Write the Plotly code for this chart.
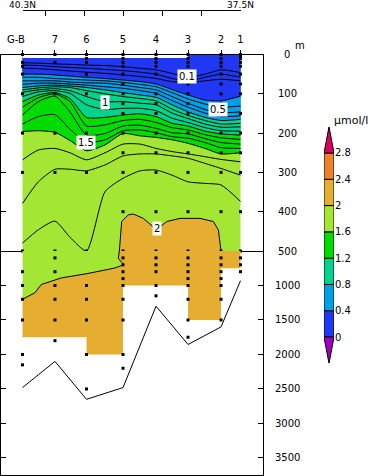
import plotly.graph_objects as go

W, H = 390, 476

# ---------- data ----------
station_names = ["", "7", "6", "5", "4", "3", "2", "1"]
first_station = "G-B"
station_lat = [40.3, 39.883, 39.478, 39.009, 38.585, 38.174, 37.75, 37.5]
col_lat = [40.3, 40.097, 39.883, 39.69, 39.478, 39.24, 39.009, 38.79, 38.585, 38.38, 38.174, 37.956, 37.75, 37.5]

iso_01 = [21, 22, 24, 25, 27, 28, 31, 35, 39, 48, 58, 50, 39, 46]
iso_02 = [27, 28, 31, 33, 35, 38, 41, 45, 50, 61, 67, 58, 50, 58]
iso_03 = [35, 36, 39, 42, 45, 48, 52, 56, 61, 69, 72, 67, 63, 67]
iso_04 = [50, 50, 52, 55, 58, 61, 65, 69, 75, 89, 103, 116, 118, 106]
iso_05 = [58, 58, 61, 63, 65, 67, 71, 76, 82, 97, 113, 126, 134, 131]
iso_06 = [67, 67, 67, 70, 72, 73, 78, 84, 90, 107, 124, 140, 148, 146]
iso_07 = [76, 73, 73, 75, 78, 82, 86, 92, 99, 117, 134, 149, 158, 156]
iso_08 = [84, 80, 78, 80, 84, 90, 97, 103, 109, 128, 146, 160, 168, 165]
iso_09 = [90, 85, 82, 84, 92, 100, 107, 112, 118, 139, 155, 168, 177, 175]
iso_10 = [96, 90, 87, 92, 107, 120, 120, 124, 128, 149, 163, 177, 185, 184]
iso_11 = [107, 95, 92, 99, 128, 140, 137, 137, 143, 162, 173, 186, 194, 195]
iso_12 = [120, 103, 97, 112, 160, 160, 154, 151, 158, 175, 182, 195, 202, 205]
iso_13 = [134, 110, 100, 120, 182, 179, 168, 165, 173, 186, 192, 204, 212, 216]
iso_14 = [154, 120, 106, 146, 205, 201, 182, 180, 188, 199, 202, 214, 224, 228]
iso_15 = [177, 158, 153, 190, 224, 217, 194, 192, 199, 209, 213, 224, 237, 239]
iso_16 = [196, 194, 198, 219, 245, 230, 201, 207, 211, 217, 226, 239, 253, 250]
iso_17 = [268, 243, 239, 250, 268, 250, 228, 228, 239, 247, 253, 260, 267, 273]
iso_18 = [379, 324, 292, 292, 296, 281, 258, 253, 253, 258, 264, 277, 290, 307]
iso_19 = [480, 446, 424, 465, 500, 349, 315, 296, 294, 307, 324, 328, 332, 374]

bump_lat = [39.056, 39.048, 39.026, 38.941, 38.877, 38.748, 38.577, 38.448, 38.277, 38.02, 37.849, 37.785, 37.763, 37.75]
bump_depth = [500, 472, 425, 408, 406, 417, 446, 425, 417, 417, 425, 446, 489, 500]

top_lat = [40.3, 38.174, 38.174, 37.5]
top_depth = [9, 9, 0, 0]

line2_lat = [39.056, 39.07, 39.0, 39.12, 39.47, 39.8, 40.06, 40.14, 40.3]
line2_depth = [500, 605, 700, 748, 828, 890, 986, 1105, 1200]

mask_lat = [40.3, 40.3, 39.478, 39.478, 39.009, 39.009, 38.174, 38.174, 37.75, 37.75, 37.5, 37.5]
mask_depth = [1200, 1750, 1750, 2000, 2000, 1000, 1000, 1500, 1500, 750, 750, 500]

bottom_depth = [2480, 2100, 2650, 2480, 1300, 1855, 1600, 930]

samples_gb = [0, 20, 30, 50, 100, 200, 300, 500, 800, 1000, 1200, 1500, 2000, 2150]
samples_7 = [0, 20, 100, 200, 300, 500, 600, 800, 1000, 1200, 1500, 1800]
samples_6 = [0, 10, 20, 50, 100, 200, 300, 500, 1000, 1200, 1500, 2000, 2500]
samples_5 = [0, 10, 20, 30, 50, 75, 100, 125, 150, 200, 250, 300, 400, 500, 600, 700, 800, 900, 1000, 1200, 1500, 2000, 2200]
samples_4 = [0, 10, 20, 30, 50, 100, 125, 150, 200, 250, 300, 400, 500, 600, 700, 800, 1000, 1150]
samples_3 = [0, 10, 20, 30, 50, 75, 100, 125, 150, 200, 250, 300, 400, 500, 600, 700, 800, 900, 1000, 1200, 1500, 1750]
samples_2 = [0, 10, 20, 30, 50, 75, 100, 125, 150, 200, 250, 300, 400, 500, 600, 700, 800, 900, 1000, 1200, 1500]
samples_1 = [0, 5, 10, 20, 30, 50, 75, 100, 150, 200, 250, 300, 400, 500, 600, 700, 800]

depth_ticks_upper = [0, 100, 200, 300, 400, 500]
depth_ticks_lower = [1000, 1500, 2000, 2500, 3000, 3500]
lat_ticks = [40.3, 40.0, 39.5, 39.0, 38.5, 38.0, 37.5]
lat_text = ["40.3N", "", "", "", "", "", "37.5N"]

cb_levels = [0, 0.4, 0.8, 1.2, 1.6, 2.0, 2.4]
cb_text = ["0", "0.4", "0.8", "1.2", "1.6", "2", "2.4", "2.8"]
C_BLUE, C_SKY, C_TEAL, C_GREEN, C_LIME, C_GOLD, C_ORANGE = "#2038f4", "#00a0e8", "#00d48c", "#00dc00", "#a4e634", "#e6ae30", "#f08030"
C_TOP, C_LOW = "#e0005c", "#a000c0"
cb_colors = [C_BLUE, C_SKY, C_TEAL, C_GREEN, C_LIME, C_GOLD, C_ORANGE]

labels = [("0.1", 38.19, 57), ("1", 39.24, 123), ("1.5", 39.49, 225), ("0.5", 37.79, 139), ("2", 38.57, 442)]

FONT = "DejaVu Sans"
BK = "#000000"

# ---------- layout geometry ----------
def xd(p): return p / W
def yd(p): return 1 - p / H
def lat_at(p): return 40.3 - (p - 22.5) * 2.8 / 218

X0, X1, Y0, YM, Y1 = 0.5, 263, 54.5, 251, 475
fig = go.Figure()
up = dict(xaxis="x", yaxis="y")
lo = dict(xaxis="x2", yaxis="y2")
nofill_line = dict(color=BK, width=1, shape="spline", smoothing=0.6)

def fill_top(x, y, color, shape="spline"):
    fig.add_trace(go.Scatter(x=x, y=y, mode="lines", line=dict(width=0, shape=shape, smoothing=0.6),
                             fill="tozeroy", fillcolor=color, hoverinfo="skip", **up))

# filled bands, painted from deep to shallow
fill_top(station_lat, [500] * 8, C_LIME, "linear")
fig.add_trace(go.Scatter(x=bump_lat, y=bump_depth, mode="lines", line=dict(color=BK, width=1),
                         fill="toself", fillcolor=C_GOLD, **up))
fill_top(col_lat, iso_16, C_GREEN)
fill_top(col_lat, iso_12, C_TEAL)
fill_top(col_lat, iso_08, C_SKY)
fill_top(col_lat, iso_04, C_BLUE)
fill_top(top_lat, top_depth, "#ffffff", "linear")

for iso in [iso_01, iso_02, iso_03, iso_04, iso_05, iso_06, iso_07, iso_08, iso_09, iso_10,
            iso_11, iso_12, iso_13, iso_14, iso_15, iso_16, iso_17, iso_18, iso_19]:
    fig.add_trace(go.Scatter(x=col_lat, y=iso, mode="lines", line=nofill_line, **up))

# deep panel
fig.add_trace(go.Scatter(x=line2_lat + [40.3], y=line2_depth + [500], mode="lines", line=dict(width=0),
                         fill="toself", fillcolor=C_LIME, **lo))
fig.add_trace(go.Scatter(x=line2_lat + mask_lat, y=line2_depth + mask_depth, mode="lines", line=dict(width=0),
                         fill="toself", fillcolor=C_GOLD, **lo))
fig.add_trace(go.Scatter(x=line2_lat, y=line2_depth, mode="lines", line=dict(color=BK, width=1), **lo))
fig.add_trace(go.Scatter(x=station_lat, y=bottom_depth, mode="lines", line=dict(color=BK, width=1), **lo))

# sample dots
all_samples = [samples_gb, samples_7, samples_6, samples_5, samples_4, samples_3, samples_2, samples_1]
for axes, keep in ((up, lambda d: d <= 500), (lo, lambda d: d > 500)):
    xs, ys = [], []
    for la, ds in zip(station_lat, all_samples):
        for d in ds:
            if keep(d):
                xs.append(la)
                ys.append(d)
    fig.add_trace(go.Scatter(x=xs, y=ys, mode="markers", cliponaxis=False,
                             marker=dict(symbol="square", size=3, color=BK, line=dict(width=0)), **axes))

# latitude ruler (own small axes)
fig.add_trace(go.Scatter(x=[40.3, 37.5], y=[0, 0], mode="markers", marker=dict(opacity=0), xaxis="x3", yaxis="y4"))

# colour scale
fig.add_trace(go.Bar(x=[0] * 7, y=[0.4] * 7, base=cb_levels, width=1, marker=dict(color=cb_colors, line=dict(color=BK, width=1)),
                     xaxis="x4", yaxis="y3"))
fig.add_trace(go.Scatter(x=[-0.5, 0, 0.5, -0.5], y=[2.8, 3.2, 2.8, 2.8], mode="lines", line=dict(color=BK, width=1),
                         fill="toself", fillcolor=C_TOP, xaxis="x4", yaxis="y3"))
fig.add_trace(go.Scatter(x=[-0.5, 0, 0.5, -0.5], y=[0, -0.4, 0, 0], mode="lines", line=dict(color=BK, width=1),
                         fill="toself", fillcolor=C_LOW, xaxis="x4", yaxis="y3"))

tf = dict(family=FONT, size=10, color=BK)
ann = []
for t, la, d in labels:
    ann.append(dict(x=la, y=d, xref="x", yref="y", text=t, showarrow=False, bgcolor="#ffffff", borderpad=1,
                    font=dict(family=FONT, size=10, color=BK)))
for d in depth_ticks_upper:
    ann.append(dict(x=xd(287), y=d, xref="paper", yref="y", xanchor="center", yanchor="middle", text=str(d), showarrow=False, font=tf))
for d in depth_ticks_lower:
    ann.append(dict(x=xd(287), y=d, xref="paper", yref="y2", xanchor="center", yanchor="middle", text=str(d), showarrow=False, font=tf))
ann.append(dict(x=xd(300), y=yd(46), xref="paper", yref="paper", xanchor="center", yanchor="middle", text="m", showarrow=False, font=tf))
ann.append(dict(x=xd(351), y=yd(120), xref="paper", yref="paper", xanchor="center", yanchor="middle", text="\u03bcmol/l",
                showarrow=False, font=dict(family=FONT, size=11, color=BK)))
ann.append(dict(x=xd(15.7), y=yd(39), xref="paper", yref="paper", xanchor="center", yanchor="middle", text=first_station,
                showarrow=False, font=tf))

lat_range = [lat_at(X0), lat_at(X1)]
frame = dict(showline=True, linecolor=BK, linewidth=1, showgrid=False, zeroline=False, mirror=True)
fig.update_layout(
    width=W, height=H, autosize=False, showlegend=False, plot_bgcolor="rgba(0,0,0,0)", paper_bgcolor="#ffffff",
    margin=dict(l=0, r=0, t=0, b=0, pad=0, autoexpand=False), hovermode=False, annotations=ann, barmode="overlay",
    font=dict(family=FONT, color=BK),
    xaxis=dict(domain=[xd(X0), xd(X1)], range=lat_range, side="top", anchor="y", tickmode="array",
               tickvals=station_lat, ticktext=station_names, ticks="outside", ticklen=4, tickwidth=1,
               tickcolor=BK, tickfont=tf, ticklabelstandoff=3, **frame),
    xaxis2=dict(domain=[xd(X0), xd(X1)], range=lat_range, anchor="y2", showticklabels=False, ticks="",
                **{**frame, "mirror": False}),
    xaxis3=dict(domain=[xd(22.5), xd(240.5)], range=[40.3, 37.5], anchor="y4",
                side="top", tickmode="array", tickvals=lat_ticks, ticktext=lat_text, ticks="inside", ticklen=5,
                tickcolor=BK, tickfont=dict(family=FONT, size=9, color=BK), ticklabelstandoff=-2,
                showline=True, linecolor=BK, showgrid=False, zeroline=False),
    yaxis4=dict(domain=[yd(14), yd(10.5)], range=[0, 1], anchor="x3", visible=False),
    yaxis=dict(domain=[yd(YM), yd(Y0)], range=[500, 0], anchor="x", tickmode="array", tickvals=depth_ticks_upper,
               ticks="inside", ticklen=5, tickcolor=BK, showticklabels=False, **{**frame, "mirror": "ticks"}),
    yaxis2=dict(domain=[yd(Y1), yd(YM)], range=[3747, 500], anchor="x2", tickmode="array", tickvals=depth_ticks_lower,
                ticks="inside", ticklen=5, tickcolor=BK, showticklabels=False, **{**frame, "mirror": "ticks"}),
    xaxis4=dict(domain=[xd(324), xd(334)], range=[-0.5, 0.5], anchor="y3", visible=False),
    yaxis3=dict(domain=[yd(363.3), yd(126.7)], range=[-0.4, 3.2], anchor="x4", side="right", tickmode="array",
                tickvals=cb_levels + [2.8], ticktext=cb_text, ticks="", showgrid=False, zeroline=False, showline=False,
                tickfont=tf),
)

fig.write_html("out.html", post_script="document.body.style.margin='0';document.body.style.overflow='hidden';",
               config=dict(displayModeBar=False))
